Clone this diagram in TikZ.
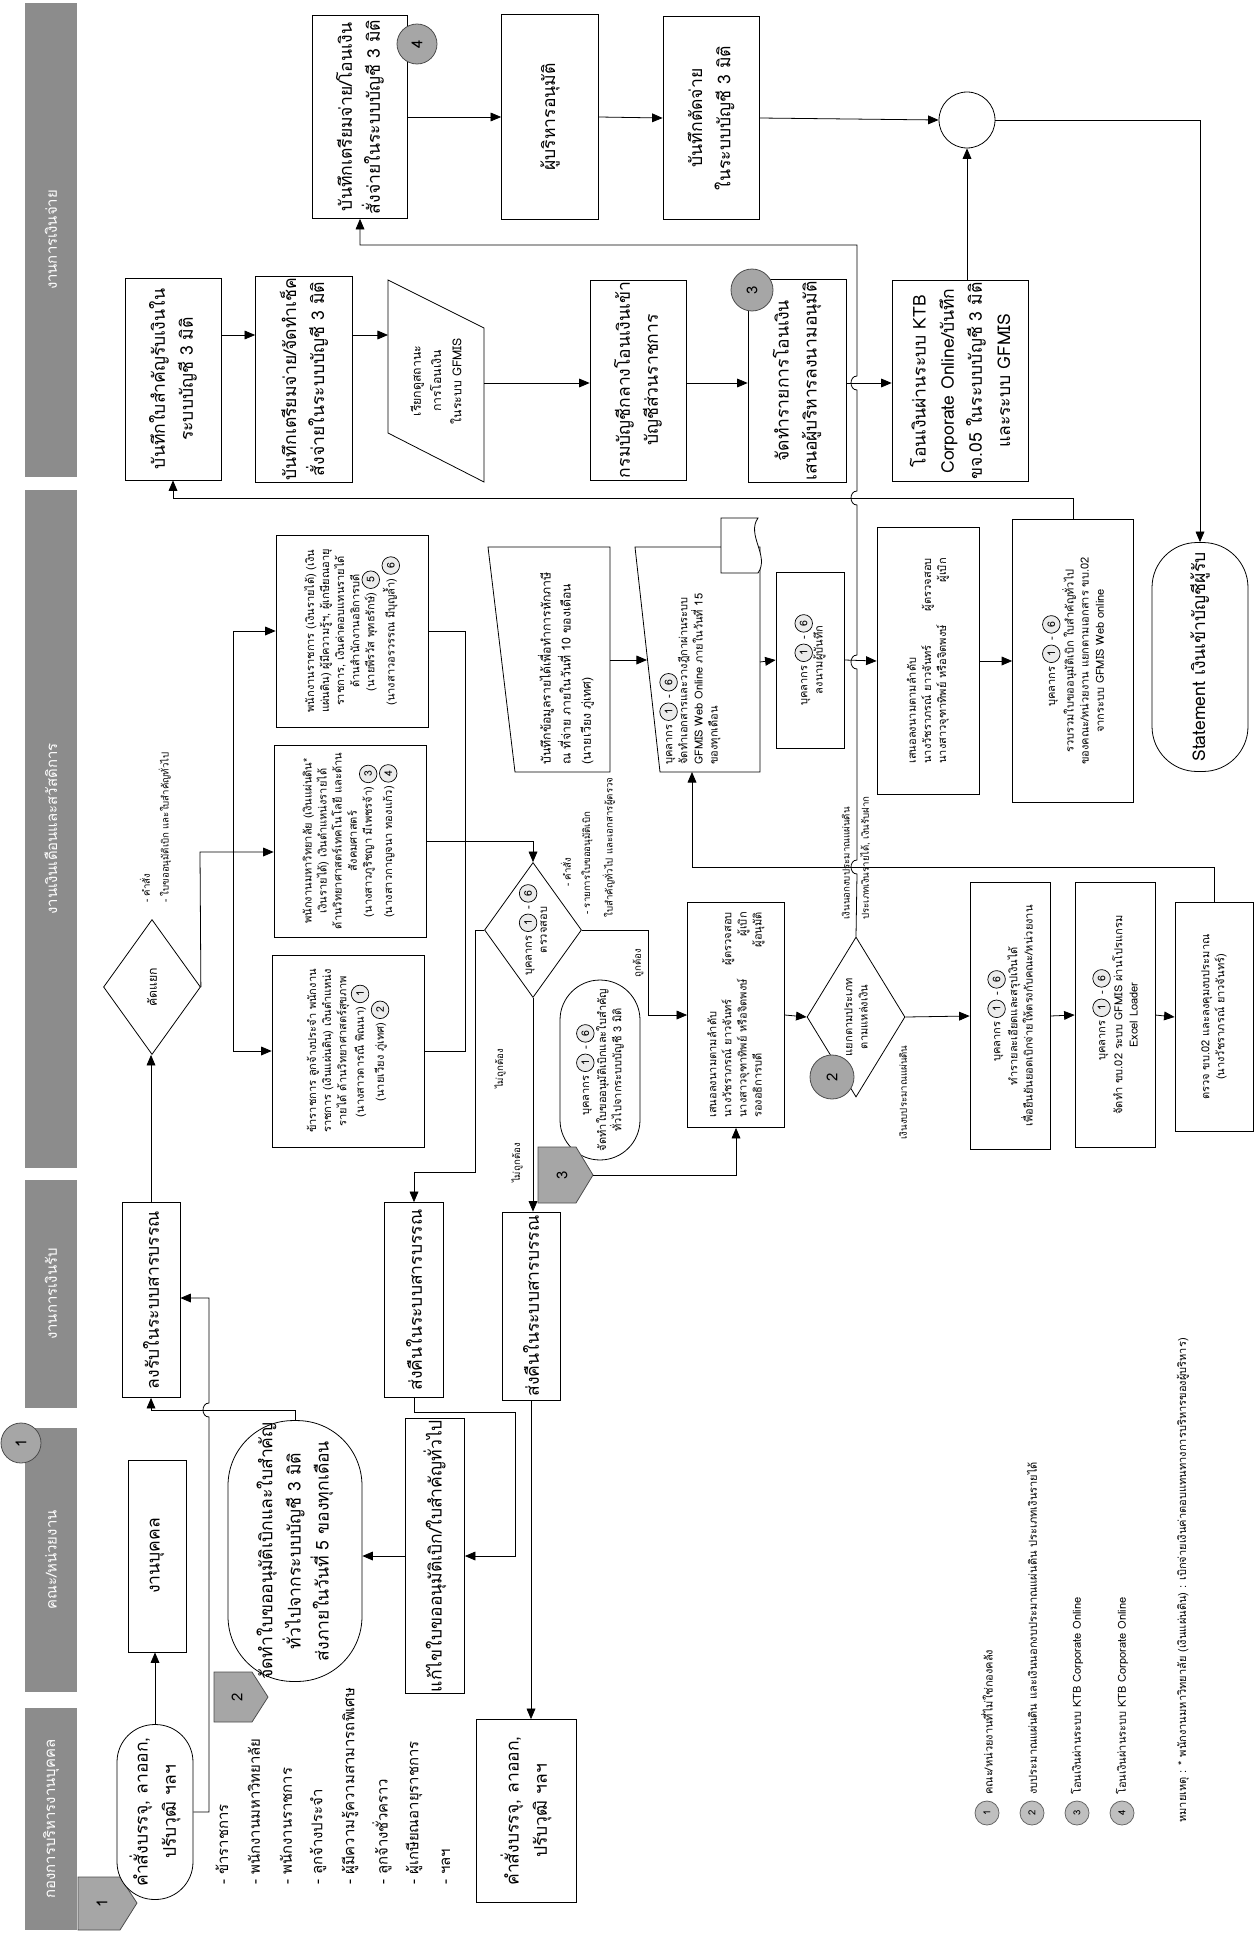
\documentclass[tikz,border=0pt]{standalone}
\usepackage{fontspec}
\setmainfont[Script=Thai]{Loma}
\usetikzlibrary{shapes.geometric,arrows.meta}
\newcommand{\bigf}{\fontsize{10}{16}\selectfont}
\newcommand{\midf}{\fontsize{8.5}{12}\selectfont}
\newcommand{\mif}{\fontsize{7}{11.5}\selectfont}
\newcommand{\smf}{\fontsize{6.3}{8.6}\selectfont}
\newcommand{\tnf}{\fontsize{5.5}{7}\selectfont}
\newcommand{\cn}[1]{\tikz[baseline=(cnn.base)]\node[circle,draw,fill=black!8,inner sep=0pt,minimum size=10pt,line width=0.4pt,font=\fontsize{6}{6}\selectfont](cnn){#1};}
\tikzset{
 hdr/.style={fill=black!45,text=white,rotate=90,minimum height=1.06cm,font=\midf},
 box/.style={draw,fill=white,rotate=90,align=center,inner sep=1pt,font=\bigf},
 sbox/.style={box,font=\smf},
 term/.style={box,rounded corners=#1},
 dia/.style={draw,fill=white,diamond,rotate=90,inner sep=0pt},
 lbl/.style={rotate=90,align=center,inner sep=0pt,font=\tnf},
 arr/.style={-{Triangle[length=6pt,width=5pt]}},
 badge/.style={circle,draw=black!70,fill=black!35,rotate=90,inner sep=0pt,font=\midf},
 pent/.style={draw=black!70,fill=black!35},
 lgd/.style={circle,draw=black!60,fill=black!25,rotate=90,minimum size=0.48cm,inner sep=0pt,font=\tnf}
}
\begin{document}
\begin{tikzpicture}[x=0.02cm,y=-0.02cm,line width=0.45pt]
\useasboundingbox (0,0) rectangle (1255,1933);
% lane headers
\node[hdr,minimum width=9.5cm] (hpay) at (51,240) {งานการเงินจ่าย};
\node[hdr,minimum width=13.56cm] (hsal) at (51,829) {งานเงินเดือนและสวัสดิการ};
\node[hdr,minimum width=4.56cm] (hrec) at (51,1294) {งานการเงินรับ};
\node[hdr,minimum width=5.3cm] (hfac) at (51,1560) {คณะ/หน่วยงาน};
\node[hdr,minimum width=4.44cm] (hper) at (51,1819) {กองการบริหารงานบุคคล};
\node[badge,minimum size=0.8cm] (b1) at (21,1443) {1};

% paying lane
\node[box,minimum width=4.04cm,minimum height=1.92cm] (rcpt) at (173,379) {บันทึกใบสำคัญรับเงินใน\\ระบบบัญชี 3 มิติ};
\node[box,minimum width=4.04cm,minimum height=1.94cm] (prep) at (304,379) {บันทึกเตรียมจ่าย/จัดทำเช็ค\\สั่งจ่ายในระบบบัญชี 3 มิติ};
\draw[fill=white] (388,280) -- (484,328) -- (484,482) -- (388,433) -- cycle;
\coordinate (parain) at (388,335);
\coordinate (paraout) at (484,383);
\node[lbl,font=\mif] (paratxt) at (436,381) {เรียกดูสถานะ\\การโอนเงิน\\ในระบบ GFMIS};
\node[box,minimum width=4cm,minimum height=1.92cm] (cgd) at (638,380) {กรมบัญชีกลางโอนเงินเข้า\\บัญชีส่วนราชการ};
\node[box,minimum width=3.96cm,minimum height=1.96cm] (trf) at (797,381) {จัดทำรายการโอนเงิน\\เสนอผู้บริหารลงนามอนุมัติ};
\node[badge,minimum size=0.84cm] (b3) at (752,290) {3};
\node[box,minimum width=3.96cm,minimum height=2.72cm] (ktb) at (960,381) {โอนเงินผ่านระบบ KTB\\Corporate Online/บันทึก\\ขจ.05 ในระบบบัญชี 3 มิติ\\และระบบ GFMIS};
\node[box,minimum width=4.06cm,minimum height=1.9cm] (pay) at (360,117) {บันทึกเตรียมจ่าย/โอนเงิน\\สั่งจ่ายในระบบบัญชี 3 มิติ};
\node[badge,minimum size=0.8cm] (b4) at (417,44) {4};
\node[box,minimum width=4.1cm,minimum height=1.94cm] (apv) at (550,117) {ผู้บริหารอนุมัติ};
\node[box,minimum width=4.06cm,minimum height=1.92cm] (cut) at (711,118) {บันทึกตัดจ่าย\\ในระบบบัญชี 3 มิติ};
\node[circle,draw,minimum size=1.12cm,inner sep=0pt] (junc) at (967,120) {};

% salary lane
\node[dia,minimum width=2.7cm,minimum height=1.94cm] (split) at (152,987) {};
\node[lbl,font=\mif] (splittxt) at (split) {คัดแยก};
\node[lbl,anchor=west] (lbA) at (145,903) {- คำสั่ง};
\node[lbl,anchor=west] (lbB) at (165,903) {- ใบขออนุมัติเบิก และใบสำคัญทั่วไป};
\node[sbox,minimum width=3.84cm,minimum height=3.04cm] (box3) at (352,631) {พนักงานราชการ (เงินรายได้) (เงิน\\แผ่นดิน) ผู้มีความรู้ฯ, ผู้เกษียณอายุ\\ราชการ, เงินค่าตอบแทนรายได้\\ด้านสำนักงานอธิการบดี\\(นายพีรวัส พุทธรักษ์) \cn{5}\\(นางสาวอรวรรณ มีบุญล้ำ) \cn{6}};
\node[sbox,minimum width=3.84cm,minimum height=3.04cm] (box2) at (350,841) {พนักงานมหาวิทยาลัย (เงินแผ่นดิน*\\เงินรายได้) เงินตำแหน่งรายได้\\ด้านวิทยาศาสตร์เทคโนโลยี และด้าน\\สังคมศาสตร์\\(นางสาวภูริชญา มีเพชรจ้า) \cn{3}\\(นางสาวกาญจนา ทองแก้ว) \cn{4}};
\node[sbox,minimum width=3.84cm,minimum height=3.04cm] (box1) at (348,1051) {ข้าราชการ ลูกจ้างประจำ พนักงาน\\ราชการ (เงินแผ่นดิน) เงินตำแหน่ง\\รายได้ ด้านวิทยาศาสตร์สุขภาพ\\(นางสาวดารณี พิณนา) \cn{1}\\(นายเวียง ภู่เทศ) \cn{2}};
\node[dia,minimum width=2.7cm,minimum height=1.94cm] (chk) at (533,930) {};
\node[lbl,font=\smf] (chktxt) at (chk) {บุคลากร \cn{1} - \cn{6}\\ตรวจสอบ};
\node[lbl,anchor=west] (lbC) at (566,887) {- คำสั่ง};
\node[lbl,anchor=west] (lbD) at (587,915) {- รายการใบขออนุมัติเบิก};
\node[lbl,anchor=west] (lbE) at (609,918) {ใบสำคัญทั่วไป และเอกสารผู้ตรวจ};
\node[lbl] (lbF) at (500,1069) {ไม่ถูกต้อง};
\node[lbl] (lbG) at (517,1163) {ไม่ถูกต้อง};
\node[lbl] (lbH) at (638,963) {ถูกต้อง};
\node[term=0.8cm,font=\smf,minimum width=3.6cm,minimum height=1.6cm] (stdB) at (600,1070) {บุคลากร \cn{1} - \cn{6}\\จัดทำใบขออนุมัติเบิกและใบสำคัญ\\ทั่วไปจากระบบบัญชี 3 มิติ};
\draw[fill=white] (488,547) -- (610,547) -- (610,772) -- (515,772) -- cycle;
\coordinate (miout) at (610,660);
\node[lbl,font=\mif,align=left,anchor=west] (mitxt) at (566,765) {บันทึกข้อมูลรายได้เพื่อทำการหักภาษี\\ณ ที่จ่าย ภายในวันที่ 10 ของเดือน\\(นายเวียง ภู่เทศ)};
\draw[fill=white] (635,547) -- (760,547) -- (760,772) -- (660,772) -- cycle;
\draw[fill=white] (721,518) -- (758,518) .. controls (746,535) and (770,556) .. (758,573) -- (721,573) -- cycle;
\coordinate (docin) at (647,660);
\coordinate (docout) at (760,662);
\coordinate (docbot) at (692,772);
\node[lbl,font=\smf,align=left,anchor=west] (doctxt) at (690,765) {บุคลากร \cn{1} - \cn{6}\\จัดทำเอกสารและวางฎีกาผ่านระบบ\\GFMIS Web Online ภายในวันที่ 15\\ของทุกเดือน};
\node[sbox,minimum width=3.52cm,minimum height=1.36cm] (sign) at (810,660) {บุคลากร \cn{1} - \cn{6}\\ลงนามผู้บันทึก};
\node[sbox,minimum width=5.34cm,minimum height=2.04cm] (prop) at (928,661) {\begin{tabular}{@{}l@{\hspace{8pt}}r@{}}\multicolumn{2}{@{}l}{เสนอลงนามตามลำดับ}\\นางวัชราภรณ์ ยาวจันทร์ & ผู้ตรวจสอบ\\นางสาวจุฑาทิพย์ หรือจิตพงษ์ & ผู้เบิก\end{tabular}};
\node[sbox,minimum width=5.66cm,minimum height=2.42cm] (coll) at (1073,661) {บุคลากร \cn{1} - \cn{6}\\รวบรวมใบขออนุมัติเบิก ใบสำคัญทั่วไป\\ของคณะ/หน่วยงาน แยกตามเอกสาร ขบ.02\\จากระบบ GFMIS Web online};
\node[term=0.9cm,minimum width=4.58cm,minimum height=1.92cm] (stmt) at (1200,657) {Statement เงินเข้าบัญชีผู้รับ};
\node[sbox,minimum width=4.5cm,minimum height=1.94cm] (prop2) at (736,1015) {\begin{tabular}{@{}l@{\hspace{8pt}}r@{}}\multicolumn{2}{@{}l}{เสนอลงนามตามลำดับ}\\นางวัชราภรณ์ ยาวจันทร์ & ผู้ตรวจสอบ\\นางสาวจุฑาทิพย์ หรือจิตพงษ์ & ผู้เบิก\\รองอธิการบดี & ผู้อนุมัติ\end{tabular}};
\node[dia,minimum width=3.2cm,minimum height=1.96cm] (src) at (856,1017) {};
\node[lbl,font=\smf] (srctxt) at (src) {แยกตามประเภท\\ตามแหล่งเงิน};
\node[badge,minimum size=0.88cm] (b2) at (832,1077) {2};
\node[lbl,font=\fontsize{5.5}{11}\selectfont,align=left,anchor=west] (lbI) at (856,920) {เงินนอกงบประมาณแผ่นดิน\\ประเภทเงินรายได้, เงินรับฝาก};
\node[lbl,anchor=west] (lbJ) at (903,1140) {เงินงบประมาณแผ่นดิน};
\node[sbox,minimum width=5.34cm,minimum height=1.6cm] (det) at (1010,1016) {บุคลากร \cn{1} - \cn{6}\\ทำรายละเอียดและสรุปเงินได้\\เพื่อยืนยันยอดเบิกจ่ายให้ตรงกับคณะ/หน่วยงาน};
\node[sbox,minimum width=5.3cm,minimum height=1.6cm] (xl) at (1115,1015) {บุคลากร \cn{1} - \cn{6}\\จัดทำ ขบ.02 ระบบ GFMIS ผ่านโปรแกรม\\Excel Loader};
\node[sbox,minimum width=4.58cm,minimum height=1.56cm] (chk2) at (1214,1017) {ตรวจ ขบ.02 และลงคุมงบประมาณ\\(นางวัชราภรณ์ ยาวจันทร์)};

% receiving lane
\node[box,minimum width=3.9cm,minimum height=1.16cm] (recv) at (151,1300) {ลงรับในระบบสารบรรณ};
\node[box,minimum width=3.9cm,minimum height=1.18cm] (ret1) at (414,1300) {ส่งคืนในระบบสารบรรณ};
\node[box,minimum width=3.76cm,minimum height=1.16cm] (ret2) at (531,1306) {ส่งคืนในระบบสารบรรณ};
\draw[pent] (538,1147) -- (576,1147) -- (593,1175) -- (576,1203) -- (538,1203) -- cycle;
\coordinate (p3tip) at (593,1175);
\node[lbl,font=\midf] (p3) at (562,1175) {3};

% faculty lane
\node[box,minimum width=3.84cm,minimum height=1.16cm] (hr) at (157,1556) {งานบุคคล};
\node[term=1.3cm,minimum width=5.14cm,minimum height=2.68cm] (reqA) at (295,1551) {จัดทำใบขออนุมัติเบิกและใบสำคัญ\\ทั่วไปจากระบบบัญชี 3 มิติ\\ส่งภายในวันที่ 5 ของทุกเดือน};
\node[box,minimum width=5.34cm,minimum height=1.18cm] (fix) at (435,1556) {แก้ไขใบขออนุมัติเบิก/ใบสำคัญทั่วไป};
\draw[pent] (214,1672) -- (252,1672) -- (268,1697) -- (252,1722) -- (214,1722) -- cycle;
\node[lbl,font=\midf] (p2) at (237,1697) {2};

% personnel lane
\draw[pent] (78,1877) -- (120,1877) -- (137,1903) -- (120,1930) -- (78,1930) -- cycle;
\node[lbl,font=\midf] (p1) at (102,1903) {1};
\node[term=0.75cm,minimum width=3.5cm,minimum height=1.52cm] (cmdA) at (155,1812) {คำสั่งบรรจุ, ลาออก,\\ปรับวุฒิ ฯลฯ};
\foreach \t [count=\i from 0] in {- ข้าราชการ, - พนักงานมหาวิทยาลัย, - พนักงานราชการ, - ลูกจ้างประจำ, - ผู้มีความรู้ความสามารถพิเศษ, - ลูกจ้างชั่วคราว, - ผู้เกษียณอายุราชการ, - ฯลฯ}
  \node[lbl,font=\midf,anchor=west] (li\i) at ({222+32*\i},1885) {\t};
\node[box,minimum width=3.66cm,minimum height=2cm] (cmdB) at (526,1811) {คำสั่งบรรจุ, ลาออก,\\ปรับวุฒิ ฯลฯ};

% legend
\foreach \i in {1,...,4}
  \node[lgd] (lg\i) at ({942+45*\i},1813) {\i};
\node[lbl,font=\smf,anchor=west] (lgt1) at (987,1795) {คณะ/หน่วยงานที่ไม่ใช่กองคลัง};
\node[lbl,font=\smf,anchor=west] (lgt2) at (1032,1795) {งบประมาณแผ่นดิน และเงินนอกงบประมาณแผ่นดิน ประเภทเงินรายได้};
\node[lbl,font=\smf,anchor=west] (lgt3) at (1077,1795) {โอนเงินผ่านระบบ KTB Corporate Online};
\node[lbl,font=\smf,anchor=west] (lgt4) at (1122,1795) {โอนเงินผ่านระบบ KTB Corporate Online};
\node[lbl,font=\smf,anchor=west] (note) at (1183,1823) {หมายเหตุ : * พนักงานมหาวิทยาลัย (เงินแผ่นดิน) : เบิกจ่ายเงินค่าตอบแทนทางการบริหารของผู้บริหาร)};

% connectors
\draw[arr] (rcpt.south |- 0,335) -- (prep.north |- 0,335);
\draw[arr] (prep.south |- 0,335) -- (parain);
\draw[arr] (paraout) -- (cgd.north |- paraout);
\draw[arr] (cgd.south |- 0,383) -- (trf.north |- 0,383);
\draw[arr] (trf.south |- 0,383) -- (ktb.north |- 0,383);
\draw[arr] (ktb.east -| junc.south) -- (junc.south);
\draw[arr] (pay.south) -- (apv.north);
\draw[arr] (apv.south) -- (cut.north);
\draw[arr] (cut.south) -- (junc.west);
\draw[arr] (junc.east) -| (stmt.east);
\draw[arr] (cmdA.east) -- (cmdA.east |- hr.west);
\draw[arr] (cmdA.south) -- (209,1812) -- (209,1417) .. controls (201,1417) and (201,1403) .. (209,1403) -- (209,1298) -- (recv.south |- 0,1298);
\draw[arr] (reqA.east) -- (295,1410) -| (recv.west);
\draw[arr] (recv.east) -- (recv.east |- split.west);
\draw[arr] (split.south) -- (200,852) -- (box2.north |- 0,852);
\coordinate (jA) at (233,852);
\draw[arr] (jA) |- (box3.north);
\draw[arr] (jA) |- (box1.north);
\draw (box3.south) -| (465,1051) -- (box1.south);
\draw[arr] (box2.south) -| (chk.east);
\draw[arr] (chk.north) -| (475,1172) -| (ret1.east);
\draw[arr] (chk.west) -- (chk.west |- ret2.east);
\draw[arr] (chk.south) -- (648,930) |- (prop2.north);
\draw[arr] (ret1.west) |- (515,1412) |- (fix.south);
\draw[arr] (ret2.west) -- (ret2.west |- cmdB.east);
\draw[arr] (fix.north) -- (fix.north -| reqA.south);
\draw[arr] (p3tip) -| (prop2.west);
\draw[arr] (prop2.south) -- (src.north);
\draw[arr] (src.south) -- (det.north);
\draw[arr] (det.south) -- (xl.north);
\draw[arr] (xl.south) -- (chk2.north);
\draw[arr] (chk2.east) -- (1214,867) -| (docbot);
\draw[arr] (miout) -- (docin);
\draw[arr] (docout) -- (sign.north);
\draw[arr] (sign.south) -- (prop.north);
\draw[arr] (prop.south) -- (coll.north);
\draw[arr] (coll.east) -- (1073,498) -| (rcpt.west);
\draw[arr] (src.east) -- (857,874) .. controls (849,874) and (849,860) .. (857,860)
  -- (857,669) .. controls (849,669) and (849,655) .. (857,655)
  -- (857,505) .. controls (849,505) and (849,491) .. (857,491)
  -- (857,390) .. controls (849,390) and (849,376) .. (857,376)
  -- (857,245) -| (pay.west);
\end{tikzpicture}
\end{document}
